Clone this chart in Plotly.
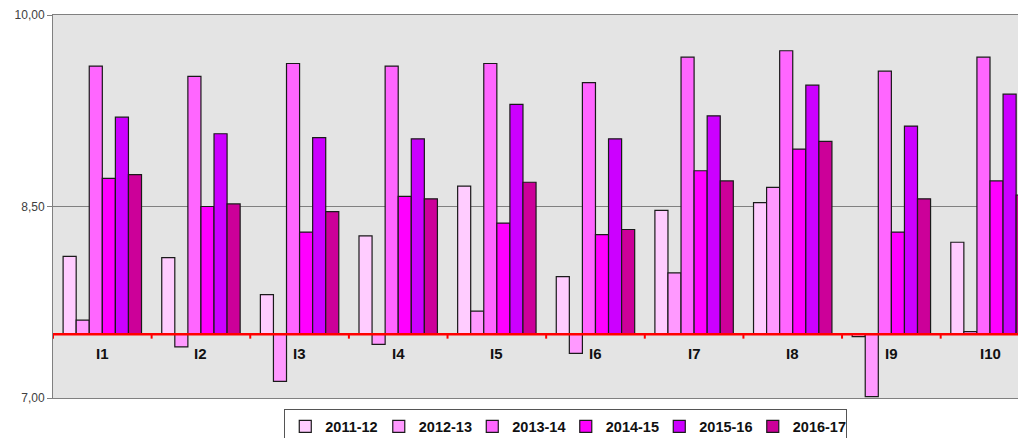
import plotly.graph_objects as go

categories = ["I1", "I2", "I3", "I4", "I5", "I6", "I7", "I8", "I9", "I10"]
series_names = ["2011-12", "2012-13", "2013-14", "2014-15", "2015-16", "2016-17"]

s2011_12 = [8.11, 8.10, 7.81, 8.27, 8.66, 7.95, 8.47, 8.53, 7.48, 8.22]
s2012_13 = [7.61, 7.40, 7.13, 7.42, 7.68, 7.35, 7.98, 8.65, 7.01, 7.52]
s2013_14 = [9.60, 9.52, 9.62, 9.60, 9.62, 9.47, 9.67, 9.72, 9.56, 9.67]
s2014_15 = [8.72, 8.50, 8.30, 8.58, 8.37, 8.28, 8.78, 8.95, 8.30, 8.70]
s2015_16 = [9.20, 9.07, 9.04, 9.03, 9.30, 9.03, 9.21, 9.45, 9.13, 9.38]
s2016_17 = [8.75, 8.52, 8.46, 8.56, 8.69, 8.32, 8.70, 9.01, 8.56, 8.59]

series_values = [s2011_12, s2012_13, s2013_14, s2014_15, s2015_16, s2016_17]
colors = ["#FFCCFF", "#FF99FF", "#FF66FF", "#FF00FF", "#CC00FF", "#CC0099"]

baseline = 7.5
y_ticks = [7.0, 8.5, 10.0]

fig = go.Figure()
for name, vals, col in zip(series_names, series_values, colors):
    fig.add_trace(go.Bar(
        x=categories,
        y=[v - baseline for v in vals],
        base=baseline,
        name="<b>%s</b>" % name,
        marker=dict(color=col, line=dict(color="#1a1a1a", width=1.2)),
        hovertemplate="%{x}: %{customdata:.2f}<extra>" + name + "</extra>",
        customdata=vals,
    ))

# red baseline and small category tick marks
shapes = [dict(type="line", xref="paper", yref="y", x0=0, x1=1, y0=baseline, y1=baseline,
               line=dict(color="#FF0000", width=2.5), layer="above")]
for i in range(len(categories) + 1):
    shapes.append(dict(type="line", xref="x", yref="y", x0=i - 0.5, x1=i - 0.5,
                       y0=baseline, y1=baseline - 0.035,
                       line=dict(color="#FF0000", width=2), layer="above"))

annotations = []
for c in categories:
    annotations.append(dict(x=c, y=baseline, xref="x", yref="y", text="<b>%s</b>" % c,
                            showarrow=False, yanchor="top", yshift=-9,
                            font=dict(family="Liberation Sans, Arial", size=15, color="#111111")))

# the page body has an 8px margin, so the figure is 8px smaller and margins shifted
fig.update_layout(
    width=1018, height=430,
    margin=dict(l=45, r=0, t=7, b=40, autoexpand=False),
    paper_bgcolor="white",
    plot_bgcolor="#E4E4E4",
    barmode="group",
    bargap=0.205,
    bargroupgap=0,
    separators=", ",
    showlegend=True,
    legend=dict(orientation="h", x=0.527, xanchor="center", y=-0.03, yanchor="top",
                bgcolor="white", bordercolor="#555555", borderwidth=1,
                font=dict(family="Liberation Sans, Arial", size=14.5, color="#111111"),
                itemwidth=30, traceorder="normal", entrywidth=48.5, entrywidthmode="pixels",
                tracegroupgap=0),
    shapes=shapes,
    annotations=annotations,
    font=dict(family="Liberation Sans, Arial"),
)

fig.update_xaxes(range=[-0.5, 9.365], showticklabels=False, ticks="", showgrid=False,
                 showline=True, linecolor="#808080", linewidth=1, mirror=True, zeroline=False,
                 automargin=False)
fig.update_yaxes(range=[7, 10], tickvals=y_ticks, tickformat=".2f", showgrid=True,
                 gridcolor="#808080", gridwidth=1, showline=True, linecolor="#808080",
                 linewidth=1, ticks="outside", ticklen=5, tickcolor="#808080",
                 tickfont=dict(family="Liberation Sans, Arial", size=12, color="#404040"),
                 zeroline=False, automargin=False)

fig.write_html("out.html")
